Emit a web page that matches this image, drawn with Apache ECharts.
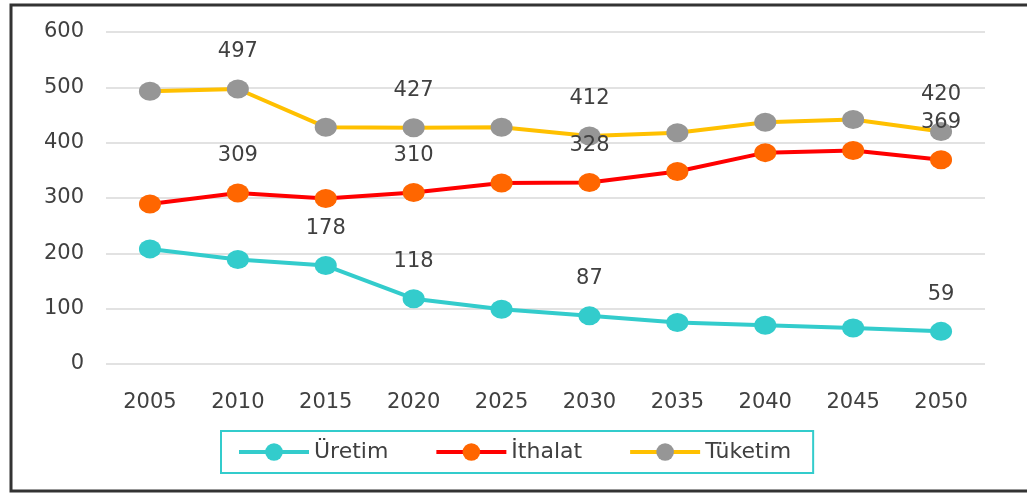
<!DOCTYPE html>
<html>
<head>
<meta charset="utf-8">
<script src="https://cdn.jsdelivr.net/npm/echarts@6/dist/echarts.min.js"></script>
<style>
  html, body { margin: 0; padding: 0; background: #fff; }
  #chart { width: 1027px; height: 494px; }
</style>
</head>
<body>
<div id="chart"></div>
<script>
var years = ['2005', '2010', '2015', '2020', '2025', '2030', '2035', '2040', '2045', '2050'];
var uretim = [208, 189, 178, 118, 99, 87, 75, 70, 65, 59];
var ithalat = [289, 309, 299, 310, 327, 328, 348, 382, 386, 369];
var tuketim = [493, 497, 428, 427, 428, 412, 418, 437, 442, 420];
// which points carry a value label
var uretimLabels = ['2015', '2020', '2030', '2050'];
var ithalatLabels = ['2010', '2020', '2030', '2050'];
var tuketimLabels = ['2010', '2020', '2030', '2050'];

var chart = echarts.init(document.getElementById('chart'));

function withLabels(values, labelYears) {
    return values.map(function (v, i) {
        return {
            value: v,
            label: { show: labelYears.indexOf(years[i]) >= 0 }
        };
    });
}

var txt = { color: '#404040', fontFamily: 'DejaVu Sans', fontSize: 21 };

function makeSeries(name, values, labelYears, lineColor, dotColor) {
    return {
        type: 'line',
        name: name,
        data: withLabels(values, labelYears),
        symbol: 'circle',
        symbolSize: [22, 19],
        lineStyle: { color: lineColor, width: 4 },
        itemStyle: { color: dotColor },
        label: {
            position: 'top',
            distance: 17,
            color: txt.color,
            fontFamily: txt.fontFamily,
            fontSize: txt.fontSize
        },
        z: 3
    };
}

chart.setOption({
    animation: false,
    backgroundColor: '#fff',
    graphic: [{
        type: 'rect',
        shape: { x: 11, y: 5, width: 1040, height: 486 },
        style: { fill: 'none', stroke: '#333', lineWidth: 3 },
        silent: true
    }],
    grid: { left: 106, right: 42, top: 32, bottom: 130 },
    legend: {
        bottom: 21,
        left: 221,
        padding: [10, 22, 10, 16],
        borderColor: '#33CCCC',
        borderWidth: 2,
        itemWidth: 70,
        itemHeight: 22,
        itemGap: 46,
        lineStyle: { width: 4 },
        textStyle: { color: txt.color, fontFamily: txt.fontFamily, fontSize: 22 },
        data: ['Üretim', 'İthalat', 'Tüketim']
    },
    xAxis: {
        type: 'category',
        data: years,
        axisLine: { show: false },
        axisTick: { show: false },
        axisLabel: { color: txt.color, fontFamily: txt.fontFamily, fontSize: txt.fontSize, margin: 28 }
    },
    yAxis: {
        type: 'value',
        min: 0,
        max: 600,
        interval: 100,
        axisLine: { show: false },
        axisTick: { show: false },
        splitLine: { lineStyle: { color: '#d9d9d9', width: 1.5 } },
        axisLabel: { color: txt.color, fontFamily: txt.fontFamily, fontSize: txt.fontSize, margin: 22 }
    },
    series: [
        makeSeries('Üretim', uretim, uretimLabels, '#33CCCC', '#33CCCC'),
        makeSeries('İthalat', ithalat, ithalatLabels, '#FF0000', '#FF6600'),
        makeSeries('Tüketim', tuketim, tuketimLabels, '#FFC000', '#969696')
    ]
});
</script>
</body>
</html>
